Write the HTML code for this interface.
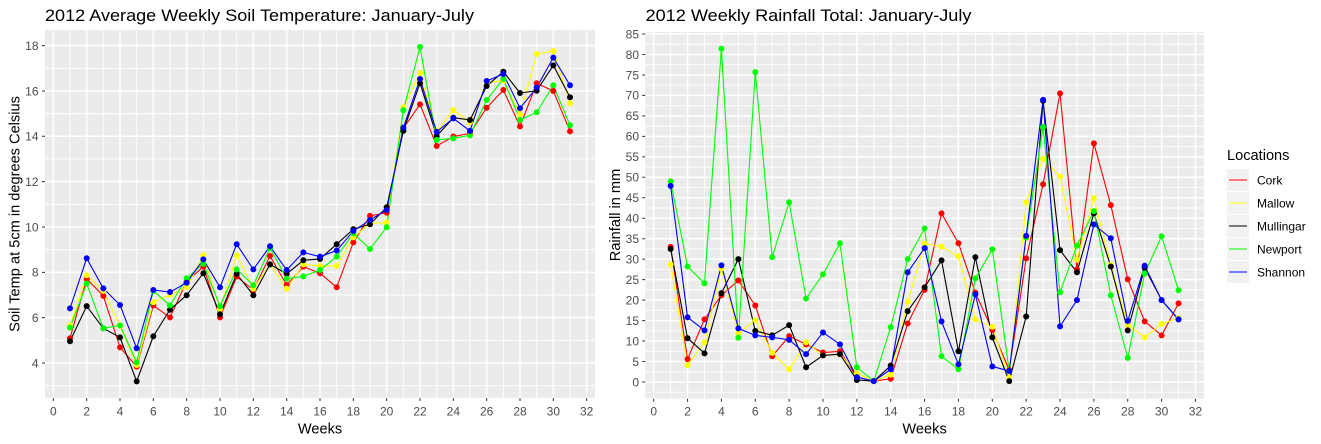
<!DOCTYPE html>
<html><head><meta charset="utf-8"><style>
html,body{margin:0;padding:0;background:#fff;}
svg{display:block;font-family:"Liberation Sans",Arial,sans-serif;}
.ns{vector-effect:non-scaling-stroke;fill:none;}
.gmaj{stroke:#fff;stroke-width:1.5;}
.gmin{stroke:#fff;stroke-width:0.9;}
.ln{stroke-width:1.1;stroke-linejoin:round;}
.pt{stroke-width:6;stroke-linecap:round;}
.tk{stroke:#333;stroke-width:1;}
.tl{font-size:12px;fill:#4d4d4d;}
.at{font-size:14.6px;fill:#000;}
.tt{font-size:17px;fill:#000;}
</style></head><body>
<svg width="1321" height="444" viewBox="0 0 1321 444" xmlns="http://www.w3.org/2000/svg">
<rect width="1321" height="444" fill="#fff"/>

<!-- ============ LEFT CHART ============ -->
<text class="tt" x="45" y="21" textLength="429" lengthAdjust="spacingAndGlyphs">2012 Average Weekly Soil Temperature: January-July</text>
<rect x="45" y="30" width="550" height="368" fill="#ebebeb"/>
<g transform="matrix(16.667 0 0 -22.67 53.33 453.68)">
  <path class="ns gmin" d="M-0.5 3H32.5M-0.5 5H32.5M-0.5 7H32.5M-0.5 9H32.5M-0.5 11H32.5M-0.5 13H32.5M-0.5 15H32.5M-0.5 17H32.5
  M1 2.45V18.68M3 2.45V18.68M5 2.45V18.68M7 2.45V18.68M9 2.45V18.68M11 2.45V18.68M13 2.45V18.68M15 2.45V18.68M17 2.45V18.68M19 2.45V18.68M21 2.45V18.68M23 2.45V18.68M25 2.45V18.68M27 2.45V18.68M29 2.45V18.68M31 2.45V18.68"/>
  <path class="ns gmaj" d="M-0.5 4H32.5M-0.5 6H32.5M-0.5 8H32.5M-0.5 10H32.5M-0.5 12H32.5M-0.5 14H32.5M-0.5 16H32.5M-0.5 18H32.5
  M0 2.45V18.68M2 2.45V18.68M4 2.45V18.68M6 2.45V18.68M8 2.45V18.68M10 2.45V18.68M12 2.45V18.68M14 2.45V18.68M16 2.45V18.68M18 2.45V18.68M20 2.45V18.68M22 2.45V18.68M24 2.45V18.68M26 2.45V18.68M28 2.45V18.68M30 2.45V18.68M32 2.45V18.68"/>
  <polyline class="ns ln" stroke="#ff0000" points="1,5.09 2,7.71 3,6.96 4,4.69 5,3.84 6,6.54 7,6.01 8,7.6 9,8.25 10,6.01 11,7.81 12,7.22 13,8.72 14,7.44 15,8.25 16,7.96 17,7.34 18,9.32 19,10.49 20,10.63 21,14.35 22,15.41 23,13.57 24,13.99 25,14.13 26,15.26 27,16.04 28,14.44 29,16.34 30,16.0 31,14.22"/>
  <polyline class="ns ln" stroke="#ffff00" points="1,5.65 2,7.87 3,7.18 4,5.63 5,3.91 6,6.68 7,7.01 8,7.34 9,8.75 10,6.37 11,8.75 12,7.28 13,8.35 14,7.28 15,8.35 16,8.28 17,8.28 18,9.54 19,10.16 20,10.19 21,15.28 22,16.79 23,14.21 24,15.16 25,14.62 26,16.37 27,16.46 28,14.97 29,17.63 30,17.76 31,15.46"/>
  <polyline class="ns ln" stroke="#000000" points="1,4.96 2,6.51 3,5.53 4,5.13 5,3.19 6,5.18 7,6.35 8,6.99 9,7.96 10,6.15 11,7.93 12,6.99 13,8.35 14,7.93 15,8.53 16,8.59 17,9.24 18,9.90 19,10.12 20,10.87 21,14.24 22,16.34 23,14.01 24,14.82 25,14.72 26,16.22 27,16.85 28,15.91 29,16.01 30,17.13 31,15.72"/>
  <polyline class="ns ln" stroke="#00ff00" points="1,5.56 2,7.5 3,5.53 4,5.66 5,4.03 6,7.18 7,6.54 8,7.74 9,8.38 10,6.51 11,8.13 12,7.43 13,9.07 14,7.72 15,7.82 16,8.10 17,8.69 18,9.72 19,9.03 20,9.99 21,15.15 22,17.94 23,13.84 24,13.91 25,14.04 26,15.60 27,16.53 28,14.72 29,15.06 30,16.25 31,14.49"/>
  <polyline class="ns ln" stroke="#0000ff" points="1,6.41 2,8.62 3,7.29 4,6.56 5,4.65 6,7.22 7,7.13 8,7.54 9,8.57 10,7.34 11,9.24 12,8.13 13,9.15 14,8.10 15,8.88 16,8.69 17,8.96 18,9.82 19,10.31 20,10.75 21,14.38 22,16.53 23,14.2 24,14.79 25,14.24 26,16.44 27,16.75 28,15.24 29,16.15 30,17.47 31,16.25"/>
  <path class="ns pt" stroke="#ff0000" d="M1 5.09h.001M2 7.71h.001M3 6.96h.001M4 4.69h.001M5 3.84h.001M6 6.54h.001M7 6.01h.001M8 7.6h.001M9 8.25h.001M10 6.01h.001M11 7.81h.001M12 7.22h.001M13 8.72h.001M14 7.44h.001M15 8.25h.001M16 7.96h.001M17 7.34h.001M18 9.32h.001M19 10.49h.001M20 10.63h.001M21 14.35h.001M22 15.41h.001M23 13.57h.001M24 13.99h.001M25 14.13h.001M26 15.26h.001M27 16.04h.001M28 14.44h.001M29 16.34h.001M30 16.0h.001M31 14.22h.001"/>
  <path class="ns pt" stroke="#ffff00" d="M1 5.65h.001M2 7.87h.001M3 7.18h.001M4 5.63h.001M5 3.91h.001M6 6.68h.001M7 7.01h.001M8 7.34h.001M9 8.75h.001M10 6.37h.001M11 8.75h.001M12 7.28h.001M13 8.35h.001M14 7.28h.001M15 8.35h.001M16 8.28h.001M17 8.28h.001M18 9.54h.001M19 10.16h.001M20 10.19h.001M21 15.28h.001M22 16.79h.001M23 14.21h.001M24 15.16h.001M25 14.62h.001M26 16.37h.001M27 16.46h.001M28 14.97h.001M29 17.63h.001M30 17.76h.001M31 15.46h.001"/>
  <path class="ns pt" stroke="#000000" d="M1 4.96h.001M2 6.51h.001M3 5.53h.001M4 5.13h.001M5 3.19h.001M6 5.18h.001M7 6.35h.001M8 6.99h.001M9 7.96h.001M10 6.15h.001M11 7.93h.001M12 6.99h.001M13 8.35h.001M14 7.93h.001M15 8.53h.001M16 8.59h.001M17 9.24h.001M18 9.90h.001M19 10.12h.001M20 10.87h.001M21 14.24h.001M22 16.34h.001M23 14.01h.001M24 14.82h.001M25 14.72h.001M26 16.22h.001M27 16.85h.001M28 15.91h.001M29 16.01h.001M30 17.13h.001M31 15.72h.001"/>
  <path class="ns pt" stroke="#00ff00" d="M1 5.56h.001M2 7.5h.001M3 5.53h.001M4 5.66h.001M5 4.03h.001M6 7.18h.001M7 6.54h.001M8 7.74h.001M9 8.38h.001M10 6.51h.001M11 8.13h.001M12 7.43h.001M13 9.07h.001M14 7.72h.001M15 7.82h.001M16 8.10h.001M17 8.69h.001M18 9.72h.001M19 9.03h.001M20 9.99h.001M21 15.15h.001M22 17.94h.001M23 13.84h.001M24 13.91h.001M25 14.04h.001M26 15.60h.001M27 16.53h.001M28 14.72h.001M29 15.06h.001M30 16.25h.001M31 14.49h.001"/>
  <path class="ns pt" stroke="#0000ff" d="M1 6.41h.001M2 8.62h.001M3 7.29h.001M4 6.56h.001M5 4.65h.001M6 7.22h.001M7 7.13h.001M8 7.54h.001M9 8.57h.001M10 7.34h.001M11 9.24h.001M12 8.13h.001M13 9.15h.001M14 8.10h.001M15 8.88h.001M16 8.69h.001M17 8.96h.001M18 9.82h.001M19 10.31h.001M20 10.75h.001M21 14.38h.001M22 16.53h.001M23 14.2h.001M24 14.79h.001M25 14.24h.001M26 16.44h.001M27 16.75h.001M28 15.24h.001M29 16.15h.001M30 17.47h.001M31 16.25h.001"/>
</g>
<path class="tk" d="M42 363H45M42 317.66H45M42 272.32H45M42 226.98H45M42 181.64H45M42 136.3H45M42 90.96H45M42 45.62H45"/>
<g class="tl" text-anchor="end">
<text x="38.5" y="367.3">4</text><text x="38.5" y="322">6</text><text x="38.5" y="276.6">8</text><text x="38.5" y="231.3">10</text><text x="38.5" y="185.9">12</text><text x="38.5" y="140.6">14</text><text x="38.5" y="95.3">16</text><text x="38.5" y="49.9">18</text>
</g>
<path class="tk" d="M53.33 398V401M86.67 398V401M120 398V401M153.33 398V401M186.67 398V401M220 398V401M253.33 398V401M286.67 398V401M320 398V401M353.33 398V401M386.67 398V401M420 398V401M453.33 398V401M486.67 398V401M520 398V401M553.33 398V401M586.67 398V401"/>
<g class="tl" text-anchor="middle">
<text x="53.33" y="415.5">0</text><text x="86.67" y="415.5">2</text><text x="120" y="415.5">4</text><text x="153.33" y="415.5">6</text><text x="186.67" y="415.5">8</text><text x="220" y="415.5">10</text><text x="253.33" y="415.5">12</text><text x="286.67" y="415.5">14</text><text x="320" y="415.5">16</text><text x="353.33" y="415.5">18</text><text x="386.67" y="415.5">20</text><text x="420" y="415.5">22</text><text x="453.33" y="415.5">24</text><text x="486.67" y="415.5">26</text><text x="520" y="415.5">28</text><text x="553.33" y="415.5">30</text><text x="586.67" y="415.5">32</text>
</g>
<text class="at" x="320" y="433.5" text-anchor="middle">Weeks</text>
<text class="at" transform="translate(19.5 214) rotate(-90)" text-anchor="middle">Soil Temp at 5cm in degrees Celsius</text>

<!-- ============ RIGHT CHART ============ -->
<text class="tt" x="645.5" y="21" textLength="326" lengthAdjust="spacingAndGlyphs">2012 Weekly Rainfall Total: January-July</text>
<rect x="645.2" y="32" width="558.8" height="366.7" fill="#ebebeb"/>
<g transform="matrix(16.93 0 0 -4.094 653.7 382)">
  <path class="ns gmin" d="M-0.5 -2.5H32.5M-0.5 2.5H32.5M-0.5 7.5H32.5M-0.5 12.5H32.5M-0.5 17.5H32.5M-0.5 22.5H32.5M-0.5 27.5H32.5M-0.5 32.5H32.5M-0.5 37.5H32.5M-0.5 42.5H32.5M-0.5 47.5H32.5M-0.5 52.5H32.5M-0.5 57.5H32.5M-0.5 62.5H32.5M-0.5 67.5H32.5M-0.5 72.5H32.5M-0.5 77.5H32.5M-0.5 82.5H32.5
  M1 -4.07V85.47M3 -4.07V85.47M5 -4.07V85.47M7 -4.07V85.47M9 -4.07V85.47M11 -4.07V85.47M13 -4.07V85.47M15 -4.07V85.47M17 -4.07V85.47M19 -4.07V85.47M21 -4.07V85.47M23 -4.07V85.47M25 -4.07V85.47M27 -4.07V85.47M29 -4.07V85.47M31 -4.07V85.47"/>
  <path class="ns gmaj" d="M-0.5 0H32.5M-0.5 5H32.5M-0.5 10H32.5M-0.5 15H32.5M-0.5 20H32.5M-0.5 25H32.5M-0.5 30H32.5M-0.5 35H32.5M-0.5 40H32.5M-0.5 45H32.5M-0.5 50H32.5M-0.5 55H32.5M-0.5 60H32.5M-0.5 65H32.5M-0.5 70H32.5M-0.5 75H32.5M-0.5 80H32.5M-0.5 85H32.5
  M0 -4.07V85.47M2 -4.07V85.47M4 -4.07V85.47M6 -4.07V85.47M8 -4.07V85.47M10 -4.07V85.47M12 -4.07V85.47M14 -4.07V85.47M16 -4.07V85.47M18 -4.07V85.47M20 -4.07V85.47M22 -4.07V85.47M24 -4.07V85.47M26 -4.07V85.47M28 -4.07V85.47M30 -4.07V85.47M32 -4.07V85.47"/>
  <polyline class="ns ln" stroke="#ff0000" points="1,33.0 2,5.6 3,15.3 4,21.2 5,24.8 6,18.7 7,6.3 8,11.2 9,9.2 10,7.2 11,7.5 12,1.2 13,0.2 14,0.8 15,14.3 16,22.5 17,41.2 18,33.9 19,21.8 20,12.7 21,2.9 22,30.2 23,48.3 24,70.5 25,27.5 26,58.3 27,43.2 28,25.1 29,14.8 30,11.4 31,19.2"/>
  <polyline class="ns ln" stroke="#ffff00" points="1,28.7 2,4.1 3,9.7 4,27.7 5,11.9 6,15.1 7,7.1 8,3.1 9,9.7 10,6.5 11,6.8 12,2.1 13,0.2 14,1.8 15,19.6 16,33.8 17,33.1 18,30.7 19,15.3 20,13.5 21,1.0 22,43.9 23,54.5 24,50.2 25,29.9 26,44.9 27,28.6 28,13.9 29,10.9 30,14.2 31,15.6"/>
  <polyline class="ns ln" stroke="#000000" points="1,32.5 2,10.7 3,7.0 4,21.7 5,30.0 6,12.5 7,11.4 8,13.9 9,3.6 10,6.5 11,6.8 12,0.5 13,0.2 14,4.0 15,17.3 16,23.1 17,29.7 18,7.5 19,30.5 20,10.9 21,0.2 22,16.0 23,68.7 24,32.2 25,26.8 26,41.2 27,28.2 28,12.6 29,27.9 30,20.0 31,15.3"/>
  <polyline class="ns ln" stroke="#00ff00" points="1,49.0 2,28.2 3,24.1 4,81.4 5,10.8 6,75.7 7,30.5 8,43.9 9,20.4 10,26.3 11,33.9 12,3.6 13,0.2 14,13.4 15,30.0 16,37.5 17,6.3 18,3.1 19,25.3 20,32.4 21,2.7 22,35.3 23,62.3 24,21.9 25,33.3 26,41.7 27,21.2 28,5.9 29,26.5 30,35.6 31,22.4"/>
  <polyline class="ns ln" stroke="#0000ff" points="1,47.9 2,15.8 3,12.6 4,28.5 5,13.1 6,11.4 7,10.9 8,10.3 9,6.8 10,12.1 11,9.2 12,1.2 13,0.2 14,3.1 15,26.8 16,32.7 17,14.8 18,4.3 19,21.4 20,3.8 21,2.7 22,35.7 23,68.9 24,13.6 25,20.0 26,38.5 27,35.1 28,14.9 29,28.4 30,20.0 31,15.3"/>
  <path class="ns pt" stroke="#ff0000" d="M1 33.0h.001M2 5.6h.001M3 15.3h.001M4 21.2h.001M5 24.8h.001M6 18.7h.001M7 6.3h.001M8 11.2h.001M9 9.2h.001M10 7.2h.001M11 7.5h.001M12 1.2h.001M13 0.2h.001M14 0.8h.001M15 14.3h.001M16 22.5h.001M17 41.2h.001M18 33.9h.001M19 21.8h.001M20 12.7h.001M21 2.9h.001M22 30.2h.001M23 48.3h.001M24 70.5h.001M25 27.5h.001M26 58.3h.001M27 43.2h.001M28 25.1h.001M29 14.8h.001M30 11.4h.001M31 19.2h.001"/>
  <path class="ns pt" stroke="#ffff00" d="M1 28.7h.001M2 4.1h.001M3 9.7h.001M4 27.7h.001M5 11.9h.001M6 15.1h.001M7 7.1h.001M8 3.1h.001M9 9.7h.001M10 6.5h.001M11 6.8h.001M12 2.1h.001M13 0.2h.001M14 1.8h.001M15 19.6h.001M16 33.8h.001M17 33.1h.001M18 30.7h.001M19 15.3h.001M20 13.5h.001M21 1.0h.001M22 43.9h.001M23 54.5h.001M24 50.2h.001M25 29.9h.001M26 44.9h.001M27 28.6h.001M28 13.9h.001M29 10.9h.001M30 14.2h.001M31 15.6h.001"/>
  <path class="ns pt" stroke="#000000" d="M1 32.5h.001M2 10.7h.001M3 7.0h.001M4 21.7h.001M5 30.0h.001M6 12.5h.001M7 11.4h.001M8 13.9h.001M9 3.6h.001M10 6.5h.001M11 6.8h.001M12 0.5h.001M13 0.2h.001M14 4.0h.001M15 17.3h.001M16 23.1h.001M17 29.7h.001M18 7.5h.001M19 30.5h.001M20 10.9h.001M21 0.2h.001M22 16.0h.001M23 68.7h.001M24 32.2h.001M25 26.8h.001M26 41.2h.001M27 28.2h.001M28 12.6h.001M29 27.9h.001M30 20.0h.001M31 15.3h.001"/>
  <path class="ns pt" stroke="#00ff00" d="M1 49.0h.001M2 28.2h.001M3 24.1h.001M4 81.4h.001M5 10.8h.001M6 75.7h.001M7 30.5h.001M8 43.9h.001M9 20.4h.001M10 26.3h.001M11 33.9h.001M12 3.6h.001M13 0.2h.001M14 13.4h.001M15 30.0h.001M16 37.5h.001M17 6.3h.001M18 3.1h.001M19 25.3h.001M20 32.4h.001M21 2.7h.001M22 35.3h.001M23 62.3h.001M24 21.9h.001M25 33.3h.001M26 41.7h.001M27 21.2h.001M28 5.9h.001M29 26.5h.001M30 35.6h.001M31 22.4h.001"/>
  <path class="ns pt" stroke="#0000ff" d="M1 47.9h.001M2 15.8h.001M3 12.6h.001M4 28.5h.001M5 13.1h.001M6 11.4h.001M7 10.9h.001M8 10.3h.001M9 6.8h.001M10 12.1h.001M11 9.2h.001M12 1.2h.001M13 0.2h.001M14 3.1h.001M15 26.8h.001M16 32.7h.001M17 14.8h.001M18 4.3h.001M19 21.4h.001M20 3.8h.001M21 2.7h.001M22 35.7h.001M23 68.9h.001M24 13.6h.001M25 20.0h.001M26 38.5h.001M27 35.1h.001M28 14.9h.001M29 28.4h.001M30 20.0h.001M31 15.3h.001"/>
</g>
<path class="tk" d="M642.2 382H645.2M642.2 361.53H645.2M642.2 341.06H645.2M642.2 320.59H645.2M642.2 300.12H645.2M642.2 279.65H645.2M642.2 259.18H645.2M642.2 238.71H645.2M642.2 218.24H645.2M642.2 197.77H645.2M642.2 177.3H645.2M642.2 156.83H645.2M642.2 136.36H645.2M642.2 115.89H645.2M642.2 95.42H645.2M642.2 74.95H645.2M642.2 54.48H645.2M642.2 34.01H645.2"/>
<g class="tl" text-anchor="end">
<text x="639" y="386.3">0</text><text x="639" y="365.8">5</text><text x="639" y="345.4">10</text><text x="639" y="324.9">15</text><text x="639" y="304.4">20</text><text x="639" y="284">25</text><text x="639" y="263.5">30</text><text x="639" y="243">35</text><text x="639" y="222.5">40</text><text x="639" y="202.1">45</text><text x="639" y="181.6">50</text><text x="639" y="161.1">55</text><text x="639" y="140.7">60</text><text x="639" y="120.2">65</text><text x="639" y="99.7">70</text><text x="639" y="79.3">75</text><text x="639" y="58.8">80</text><text x="639" y="38.3">85</text>
</g>
<path class="tk" d="M653.7 398.7V401.7M687.56 398.7V401.7M721.42 398.7V401.7M755.28 398.7V401.7M789.14 398.7V401.7M823 398.7V401.7M856.86 398.7V401.7M890.72 398.7V401.7M924.58 398.7V401.7M958.44 398.7V401.7M992.3 398.7V401.7M1026.16 398.7V401.7M1060.02 398.7V401.7M1093.88 398.7V401.7M1127.74 398.7V401.7M1161.6 398.7V401.7M1195.46 398.7V401.7"/>
<g class="tl" text-anchor="middle">
<text x="653.7" y="415.5">0</text><text x="687.56" y="415.5">2</text><text x="721.42" y="415.5">4</text><text x="755.28" y="415.5">6</text><text x="789.14" y="415.5">8</text><text x="823" y="415.5">10</text><text x="856.86" y="415.5">12</text><text x="890.72" y="415.5">14</text><text x="924.58" y="415.5">16</text><text x="958.44" y="415.5">18</text><text x="992.3" y="415.5">20</text><text x="1026.16" y="415.5">22</text><text x="1060.02" y="415.5">24</text><text x="1093.88" y="415.5">26</text><text x="1127.74" y="415.5">28</text><text x="1161.6" y="415.5">30</text><text x="1195.46" y="415.5">32</text>
</g>
<text class="at" x="924.6" y="433.5" text-anchor="middle">Weeks</text>
<text class="at" transform="translate(620 215) rotate(-90)" text-anchor="middle">Rainfall in mm</text>

<!-- ============ LEGEND ============ -->
<text class="at" x="1227" y="160">Locations</text>
<g fill="#f2f2f2">
<rect x="1227" y="169" width="22" height="22"/>
<rect x="1227" y="192" width="22" height="22"/>
<rect x="1227" y="215" width="22" height="22"/>
<rect x="1227" y="238" width="22" height="22"/>
<rect x="1227" y="261" width="22" height="22"/>
</g>
<g stroke-width="1.1">
<path d="M1229 180H1247" stroke="#ff0000"/>
<path d="M1229 203H1247" stroke="#ffff00"/>
<path d="M1229 226H1247" stroke="#000000"/>
<path d="M1229 249H1247" stroke="#00ff00"/>
<path d="M1229 272H1247" stroke="#0000ff"/>
</g>
<g class="tl" style="fill:#000">
<text x="1257" y="184.3">Cork</text>
<text x="1257" y="207.3">Mallow</text>
<text x="1257" y="230.3">Mullingar</text>
<text x="1257" y="253.3">Newport</text>
<text x="1257" y="276.3">Shannon</text>
</g>
</svg>
</body></html>
